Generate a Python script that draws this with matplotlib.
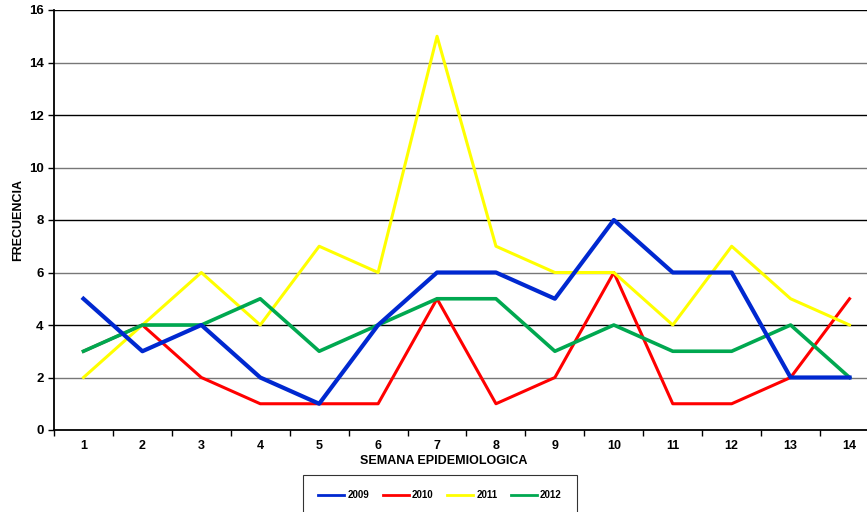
import numpy as np
import matplotlib
matplotlib.use('Agg')
import matplotlib.pyplot as plt

# semanas epidemiologicas y frecuencias por año
semanas = ['1', '2', '3', '4', '5', '6', '7', '8', '9', '10', '11', '12', '13', '14']
f2009 = [5, 3, 4, 2, 1, 4, 6, 6, 5, 8, 6, 6, 2, 2]
f2010 = [3, 4, 2, 1, 1, 1, 5, 1, 2, 6, 1, 1, 2, 5]
f2011 = [2, 4, 6, 4, 7, 6, 15, 7, 6, 6, 4, 7, 5, 4]
f2012 = [3, 4, 4, 5, 3, 4, 5, 5, 3, 4, 3, 3, 4, 2]

plt.rcParams['font.family'] = ['Liberation Sans', 'DejaVu Sans']
plt.rcParams['font.weight'] = 'bold'

W, H = 867, 512
fig = plt.figure(figsize=(W/100, H/100), dpi=100)
# axes run past the right edge like the original screenshot
ax = fig.add_axes([54/W, 1-430/H, 825/W, 420/H])

x = np.arange(1, len(semanas)+1)
ax.plot(x, f2009, color='#0028D0', lw=3.0, label='2009', zorder=6)
ax.plot(x, f2010, color='#FF0000', lw=2.2, label='2010', zorder=3)
ax.plot(x, f2011, color='#FFFF00', lw=2.2, label='2011', zorder=4)
ax.plot(x, f2012, color='#00A850', lw=2.6, label='2012', zorder=5)

ax.set_xlim(0.5, 14.5)
ax.set_ylim(0, 16)
ax.set_yticks(range(0, 17, 2))
for i, y in enumerate(range(2, 17, 2)):
    ax.axhline(y, color='#777777' if i % 2 == 0 else 'black', lw=1.0, zorder=1)

ax.set_xticks(x)
ax.set_xticklabels(semanas)
ax.set_xticks(np.arange(0.5, 15, 1), minor=True)
ax.tick_params(axis='x', which='major', length=0, pad=7, labelsize=9)
ax.tick_params(axis='x', which='minor', length=4, direction='out', width=1)
ax.tick_params(axis='y', length=4, direction='out', width=1, labelsize=9.5)

for s in ['top', 'right']:
    ax.spines[s].set_visible(False)
ax.spines['left'].set_linewidth(1.3)
ax.spines['bottom'].set_linewidth(1.3)

fig.text(444/W, 1-461/H, 'SEMANA EPIDEMIOLOGICA', ha='center', va='center',
         fontsize=9, fontweight='bold')
fig.text(18/W, 1-220/H, 'FRECUENCIA', ha='center', va='center', rotation=90,
         fontsize=9, fontweight='bold')

leg = fig.legend(ncol=4, loc='upper center', bbox_to_anchor=(440/W, 1-470/H),
                 frameon=True, fancybox=False, edgecolor='black',
                 fontsize=7, handlelength=2.7, columnspacing=1.4,
                 borderpad=1.6, handletextpad=0.3)
leg.get_frame().set_linewidth(0.8)
for line in leg.get_lines():
    line.set_linewidth(2)

fig.savefig('out.png', dpi=100)
